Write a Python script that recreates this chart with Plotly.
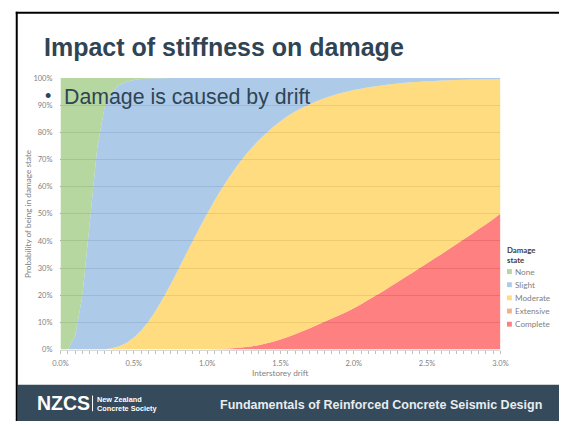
import plotly.graph_objects as go

W, H = 567, 426

# Interstorey drift (%) at which the damage-state probabilities are tabulated
drift_pct = [
    0.00, 0.05, 0.10, 0.15, 0.20, 0.25, 0.30, 0.35, 0.40, 0.45,
    0.50, 0.55, 0.60, 0.65, 0.70, 0.75, 0.80, 0.85, 0.90, 0.95,
    1.00, 1.05, 1.10, 1.15, 1.20, 1.25, 1.30, 1.35, 1.40, 1.45,
    1.50, 1.55, 1.60, 1.65, 1.70, 1.75, 1.80, 1.85, 1.90, 1.95,
    2.00, 2.05, 2.10, 2.15, 2.20, 2.25, 2.30, 2.35, 2.40, 2.45,
    2.50, 2.55, 2.60, 2.65, 2.70, 2.75, 2.80, 2.85, 2.90, 2.95,
    3.00,
]

# Probability (%) of reaching or exceeding each damage state
exceed_slight = [
    0.0, 0.0, 5.0, 20.0, 47.0, 74.0, 89.0, 95.0, 97.5, 98.7,
    99.3, 99.65, 99.85, 99.93, 99.97, 100, 100, 100, 100, 100,
    100, 100, 100, 100, 100, 100, 100, 100, 100, 100,
    100, 100, 100, 100, 100, 100, 100, 100, 100, 100,
    100, 100, 100, 100, 100, 100, 100, 100, 100, 100,
    100, 100, 100, 100, 100, 100, 100, 100, 100, 100,
    100,
]
exceed_moderate = [
    0.0, 0.0, 0.0, 0.0, 0.0, 0.0, 0.1, 0.5, 1.2, 2.4,
    4.4, 7.0, 10.3, 14.3, 19.0, 23.9, 29.1, 34.5, 39.8, 45.0,
    50.0, 54.8, 59.3, 63.5, 67.3, 70.9, 74.1, 77.0, 79.6, 82.0,
    84.1, 86.0, 87.7, 89.1, 90.4, 91.6, 92.6, 93.5, 94.3, 95.0,
    95.6, 96.1, 96.6, 97.0, 97.4, 97.7, 98.0, 98.25, 98.45, 98.65,
    98.8, 98.95, 99.07, 99.18, 99.28, 99.36, 99.44, 99.5, 99.56, 99.61,
    99.66,
]
exceed_complete = [
    0.0, 0.0, 0.0, 0.0, 0.0, 0.0, 0.0, 0.0, 0.0, 0.0,
    0.0, 0.0, 0.0, 0.0, 0.0, 0.0, 0.0, 0.0, 0.0, 0.0,
    0.0, 0.1, 0.25, 0.4, 0.6, 0.85, 1.15, 1.6, 2.2, 2.9,
    3.7, 4.6, 5.6, 6.7, 7.8, 9.0, 10.2, 11.4, 12.6, 13.8,
    15.2, 16.7, 18.3, 19.9, 21.5, 23.2, 24.9, 26.6, 28.3, 30.0,
    31.8, 33.5, 35.2, 37.0, 38.8, 40.6, 42.4, 44.3, 46.1, 48.0,
    50.0,
]

states = ["None", "Slight", "Moderate", "Extensive", "Complete"]
state_colors = {
    "None": (183, 215, 161),
    "Slight": (173, 203, 232),
    "Moderate": (255, 220, 128),
    "Extensive": (244, 177, 131),
    "Complete": (255, 128, 128),
}

x_tick_vals = [0.0, 0.5, 1.0, 1.5, 2.0, 2.5, 3.0]
x_tick_text = ["0.0%", "0.5%", "1.0%", "1.5%", "2.0%", "2.5%", "3.0%"]
y_tick_vals = [0, 10, 20, 30, 40, 50, 60, 70, 80, 90, 100]
y_tick_text = ["0%", "10%", "20%", "30%", "40%", "50%",
               "60%", "70%", "80%", "90%", "100%"]

# Probability of being in each damage state
share = {
    "None": [100 - s for s in exceed_slight],
    "Slight": [s - m for s, m in zip(exceed_slight, exceed_moderate)],
    "Moderate": [m - c for m, c in zip(exceed_moderate, exceed_complete)],
    "Extensive": [0.0 for _ in drift_pct],
    "Complete": list(exceed_complete),
}

FILL_ALPHA = 0.8


def fill_rgba(rgb):
    # Translucent fill that shows the target tint over white, letting gridlines through
    r, g, b = (max(0.0, (v - 255 * (1 - FILL_ALPHA)) / FILL_ALPHA) for v in rgb)
    return f"rgba({r:.0f},{g:.0f},{b:.0f},{FILL_ALPHA})"


def hexcol(rgb):
    return "#%02x%02x%02x" % rgb


def px(x):
    return x / W


def py(y):
    return 1 - y / H


fig = go.Figure()
for name in reversed(states):  # stack from Complete at the bottom up to None
    fig.add_trace(go.Scatter(
        x=drift_pct, y=share[name], name=name,
        mode="none", stackgroup="damage",
        fillcolor=fill_rgba(state_colors[name]),
        showlegend=False, hoverinfo="skip",
    ))

SMALL = "Lato, Carlito, sans-serif"
SANS = "Liberation Sans, Arial, sans-serif"
GREY = "#7f7f7f"
SLATE = "#2f4454"

fig.update_layout(
    width=W, height=H,
    margin=dict(l=0, r=0, t=0, b=0),
    paper_bgcolor="white", plot_bgcolor="white",
    showlegend=False, hovermode=False,
    xaxis=dict(
        domain=[px(54), px(506.7)], range=[0, 3],
        tickvals=x_tick_vals, ticktext=x_tick_text,
        ticks="outside", ticklen=3, tickcolor="#bfbfbf", tickwidth=1,
        minor=dict(dtick=0.05, tick0=0, ticks="outside", ticklen=3,
                   tickcolor="#bfbfbf", showgrid=False),
        showline=True, linecolor="#d9d9d9", linewidth=1,
        showgrid=False, zeroline=False,
        tickfont=dict(family=SMALL, size=7.5, color=GREY),
        ticklabelstandoff=3,
    ),
    yaxis=dict(
        domain=[py(353), py(75.7)], range=[0, 100],
        tickvals=y_tick_vals, ticktext=y_tick_text,
        ticks="", showline=False, zeroline=False,
        showgrid=True, gridcolor="#a8a8a8", gridwidth=1,
        tickfont=dict(family=SMALL, size=7.5, color=GREY),
        ticklabelstandoff=7,
    ),
)

annotations = [
    dict(text="<b>Impact of stiffness on damage</b>", x=px(34.5), y=py(44),
         xanchor="left", yanchor="middle",
         font=dict(family=SANS, size=25, color=SLATE)),
    dict(text="•", x=px(36), y=py(94), xanchor="left", yanchor="middle",
         font=dict(family=SANS, size=18, color=SLATE)),
    dict(text="Damage is caused by drift", x=px(56), y=py(95),
         xanchor="left", yanchor="middle",
         font=dict(family=SANS, size=21.3, color=SLATE)),
    dict(text="Interstorey drift", x=px(280.5), y=py(377),
         xanchor="center", yanchor="middle",
         font=dict(family=SMALL, size=8.2, color=GREY)),
    dict(text="Probability of being in damage state", x=px(21), y=py(214),
         xanchor="center", yanchor="middle", textangle=-90,
         font=dict(family=SMALL, size=8.2, color=GREY)),
    dict(text="<b>Damage</b><br><b>state</b>", x=px(511), y=py(256),
         xanchor="left", yanchor="middle", align="left",
         font=dict(family=SMALL, size=7.8, color="#404040")),
    dict(text="<b>NZCS</b>", x=px(27.5), y=py(408),
         xanchor="left", yanchor="middle",
         font=dict(family=SANS, size=19.5, color="white")),
    dict(text="<b>New Zealand</b><br><b>Concrete Society</b>", x=px(90), y=py(408.5),
         xanchor="left", yanchor="middle", align="left",
         font=dict(family=SANS, size=7.3, color="white")),
    dict(text="<b>Fundamentals of Reinforced Concrete Seismic Design</b>",
         x=px(384), y=py(409.5), xanchor="center", yanchor="middle",
         font=dict(family=SANS, size=12.5, color="#e8ecef")),
]

shapes = [
    # slide frame
    dict(type="line", xref="paper", yref="paper", x0=px(8), x1=1, y0=py(9), y1=py(9),
         line=dict(color="black", width=2)),
    dict(type="line", xref="paper", yref="paper", x0=px(9), x1=px(9), y0=py(8), y1=0,
         line=dict(color="black", width=2)),
    # footer band
    dict(type="rect", xref="paper", yref="paper", x0=px(10), x1=1, y0=0, y1=py(389),
         fillcolor="#354a5a", line=dict(width=0), layer="below"),
    dict(type="line", xref="paper", yref="paper", x0=px(87), x1=px(87),
         y0=py(400), y1=py(416), line=dict(color="white", width=1)),
]

# Legend: swatch and label for each damage state
for i, name in enumerate(states):
    yc = 273.3 + i * 13.45
    shapes.append(dict(type="rect", xref="paper", yref="paper",
                       x0=px(513.5), x1=px(518.5), y0=py(yc + 2.5), y1=py(yc - 2.5),
                       fillcolor=hexcol(state_colors[name]), line=dict(width=0)))
    annotations.append(dict(text=name, x=px(519.5), y=py(yc), xanchor="left",
                            yanchor="middle", showarrow=False,
                            font=dict(family=SMALL, size=8.2, color=GREY)))

for a in annotations:
    a.setdefault("showarrow", False)
    a.setdefault("xref", "paper")
    a.setdefault("yref", "paper")

fig.update_layout(annotations=annotations, shapes=shapes)

fig.write_html("out.html")
